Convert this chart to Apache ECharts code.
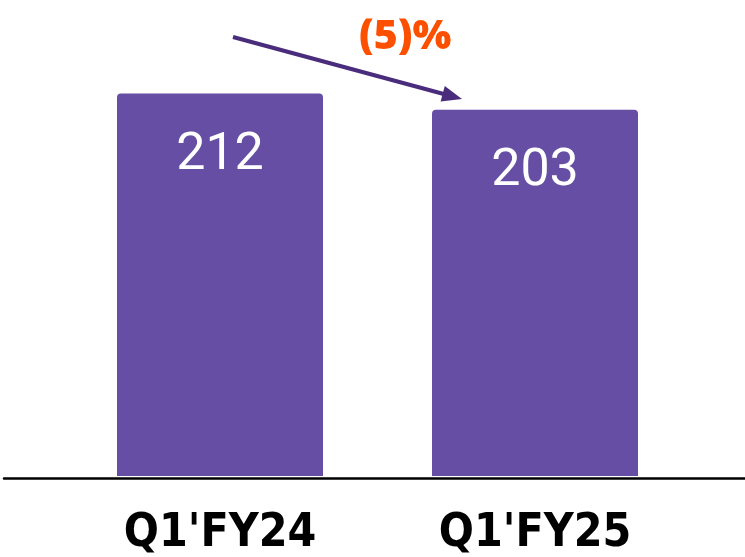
<!DOCTYPE html>
<html><head><meta charset="utf-8">
<script src="https://cdn.jsdelivr.net/npm/echarts@6/dist/echarts.min.js"></script>
<style>html,body{margin:0;padding:0;background:#fff}#c{width:745px;height:557px}</style>
</head><body><div id="c"></div>
<script>
var categories = ["Q1'FY24", "Q1'FY25"];
var values = [212, 203];
var changeLabel = "(5)%";

var chart = echarts.init(document.getElementById('c'), null, {renderer: 'canvas'});

// arrow annotation
var ax1 = 233, ay1 = 37, ax2 = 462, ay2 = 99;
var ang = Math.atan2(ay2 - ay1, ax2 - ax1);
var hl = 20, hw = 8;
function pt(dx, dy) {
  return [ax2 + dx * Math.cos(ang) - dy * Math.sin(ang), ay2 + dx * Math.sin(ang) + dy * Math.cos(ang)];
}

chart.setOption({
  animation: false,
  grid: [
    {left: 62.5, width: 630, top: 25, bottom: 79},
    {left: 4, right: 0, top: 25, bottom: 79}
  ],
  xAxis: [
    {type: 'category', data: categories, gridIndex: 0,
     axisLine: {show: false}, axisTick: {show: false},
     axisLabel: {margin: 35, color: '#000', fontFamily: '"DejaVu Sans Condensed", "Liberation Sans Narrow", "Liberation Sans", sans-serif', fontWeight: 'bold', fontSize: 46}},
    {type: 'value', gridIndex: 1, min: 0, max: 1, axisLine: {show: true, lineStyle: {color: '#000', width: 2.5}},
     axisTick: {show: false}, axisLabel: {show: false}, splitLine: {show: false}}
  ],
  yAxis: [
    {type: 'value', gridIndex: 0, min: 0, max: 250, show: false},
    {type: 'value', gridIndex: 1, min: 0, max: 1, show: false}
  ],
  series: [{
    type: 'bar', xAxisIndex: 0, yAxisIndex: 0, data: values, barWidth: 206,
    itemStyle: {color: '#654ea3', borderRadius: [4, 4, 0, 0]},
    label: {show: true, position: 'insideTop', distance: 36, color: '#fff',
            fontFamily: 'Roboto', fontWeight: 'normal', fontSize: 52}
  }],
  graphic: [
    {type: 'line', shape: {x1: ax1, y1: ay1, x2: pt(-hl + 2, 0)[0], y2: pt(-hl + 2, 0)[1]},
     style: {stroke: '#4a2c7c', lineWidth: 4}},
    {type: 'polygon', shape: {points: [pt(0, 0), pt(-hl, -hw), pt(-hl, hw)]},
     style: {fill: '#4a2c7c'}},
    {type: 'text', left: 359, top: 17,
     style: {text: changeLabel, fill: '#fd4f00', font: '800 41px "Open Sans"'}}
  ]
});
</script></body></html>
